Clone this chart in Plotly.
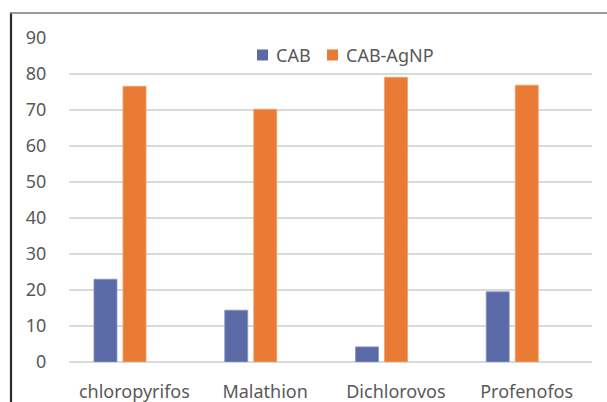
import plotly.graph_objects as go

categories = ["chloropyrifos", "Malathion", "Dichlorovos", "Profenofos"]
cab = [23.0, 14.4, 4.2, 19.5]
cab_agnp = [76.6, 70.2, 79.1, 76.9]
y_ticks = [0, 10, 20, 30, 40, 50, 60, 70, 80, 90]
series_names = ["CAB", "CAB-AgNP"]

BLUE = "#5a6aa7"
ORANGE = "#e97b35"
TEXT = "#595959"
GRID = "#d9d9d9"
FONT = "Noto Sans"
FS = 18

W, H = 607, 402
ML, MR, MT, MB = 69, 15, 38, 39.5
PW, PH = W - ML - MR, H - MT - MB


def px_to_paper(px, py):
    return (px - ML) / PW, (H - MB - py) / PH


bar_w = 0.176

fig = go.Figure()
fig.add_trace(go.Bar(
    name=series_names[0], x=categories, y=cab,
    width=bar_w, offset=-0.309,
    marker=dict(color=BLUE, line=dict(color="#8a97c8", width=0.8)),
))
fig.add_trace(go.Bar(
    name=series_names[1], x=categories, y=cab_agnp,
    width=bar_w, offset=-0.087,
    marker=dict(color=ORANGE, line=dict(color="#f0a070", width=0.8)),
))

# outer chart frame (left and top edges)
fx, fy = px_to_paper(11, 13)
fig.add_shape(type="line", xref="paper", yref="paper",
              x0=fx, x1=fx, y0=fy, y1=-0.25,
              line=dict(color="#2b2b2b", width=2.2))
fig.add_shape(type="line", xref="paper", yref="paper",
              x0=fx - 0.002, x1=1.1, y0=fy, y1=fy,
              line=dict(color="#7a7a7a", width=1.6))

# legend: colour swatch followed by series name
for name, color, sx in zip(series_names, [BLUE, ORANGE], [257, 327]):
    x0, y0 = px_to_paper(sx, 60.5)
    x1, y1 = px_to_paper(sx + 11, 49.5)
    fig.add_shape(type="rect", xref="paper", yref="paper",
                  x0=x0, x1=x1, y0=y0, y1=y1,
                  fillcolor=color, line=dict(width=0))
    tx, ty = px_to_paper(sx + 17, 55)
    fig.add_annotation(xref="paper", yref="paper", x=tx, y=ty,
                       xanchor="left", yanchor="middle", showarrow=False,
                       text=name, font=dict(family=FONT, size=FS, color=TEXT))

fig.update_layout(
    width=W, height=H,
    margin=dict(l=ML, r=MR, t=MT, b=MB, autoexpand=False),
    paper_bgcolor="white", plot_bgcolor="white",
    font=dict(family=FONT, size=FS, color=TEXT),
    barmode="group",
    showlegend=False,
)
fig.update_xaxes(
    automargin=False,
    showgrid=False, showline=False, zeroline=False,
    ticks="outside", ticklen=13, tickcolor="rgba(0,0,0,0)",
    tickfont=dict(family=FONT, size=FS, color=TEXT),
)
fig.update_yaxes(
    automargin=False,
    range=[0, 90], tickvals=y_ticks,
    showgrid=True, gridcolor=GRID, gridwidth=1.5,
    zeroline=True, zerolinecolor=GRID, zerolinewidth=1.5,
    showline=False,
    ticks="outside", ticklen=18, tickcolor="rgba(0,0,0,0)",
    tickfont=dict(family=FONT, size=FS, color=TEXT),
)

fig.write_html("out.html")
